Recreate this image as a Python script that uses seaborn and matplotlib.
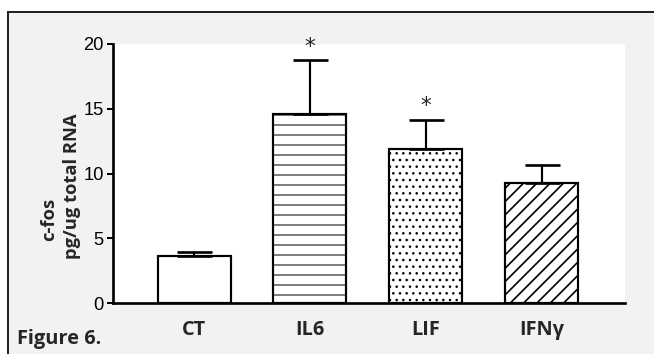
import matplotlib
matplotlib.use("Agg")
import matplotlib.pyplot as plt
import seaborn as sns
from matplotlib.patches import Rectangle

# values
groups = ["CT", "IL6", "LIF", "IFNγ"]
means = [3.63, 14.63, 11.88, 9.25]
sems = [0.31, 4.10, 2.27, 1.42]
significant = [False, True, True, False]
hatches = ["", "--", "...", "///"]
hatch_widths = [0.7, 0.6, 0.7, 1.0]

sns.set_style("white")
plt.rcParams["font.family"] = ["Open Sans", "DejaVu Sans"]
plt.rcParams["hatch.linewidth"] = 0.7

W, H, DPI = 654, 354, 120
fig = plt.figure(figsize=(W / DPI, H / DPI), dpi=DPI, facecolor="white")

# grey panel with frame (open to the right/bottom, as cropped)
fig.add_artist(Rectangle((8 / W, -0.1), 1.2, (H - 12) / H + 0.1,
                         transform=fig.transFigure, facecolor="#f2f2f2",
                         edgecolor="#222222", linewidth=1.2, zorder=0))

ax = fig.add_axes([113 / W, (H - 303) / H, 512 / W, 259 / H])
ax.set_facecolor("white")

sns.barplot(x=groups, y=means, color="white", edgecolor="black",
            linewidth=1.3, width=0.63, errorbar=None, saturation=1, ax=ax)

for bar, h, hw in zip(ax.patches, hatches, hatch_widths):
    bar.set_hatch(h)
    bar.set_facecolor("white")
    bar.set_edgecolor("black")
    if hasattr(bar, "set_hatch_linewidth"):
        bar.set_hatch_linewidth(hw)

centers = [p.get_x() + p.get_width() / 2 for p in ax.patches]
ax.errorbar(centers, means, yerr=[[0] * len(sems), sems], fmt="none",
            ecolor="black", elinewidth=1.3, capsize=10.5, capthick=1.6,
            zorder=1)

for x, m, s, sig in zip(centers, means, sems, significant):
    if sig:
        ax.annotate("*", (x, m + s), xytext=(0, 2), textcoords="offset points",
                    ha="center", va="bottom", fontsize=13,
                    family="DejaVu Sans", annotation_clip=False)

ax.set_ylim(0, 20)
ax.set_xlim(-0.70, 3.72)
ax.set_yticks([0, 5, 10, 15, 20])
ax.set_yticklabels(["0", "5", "10", "15", "20"], family="Liberation Sans",
                   fontsize=11)
ax.tick_params(axis="y", length=3.5, width=1.2, direction="out", pad=2,
               left=True, colors="black")
ax.tick_params(axis="x", length=0, pad=10, labelsize=12)
for lab in ax.get_xticklabels():
    lab.set_fontweight("bold")
ax.set_xlabel("")
ax.set_ylabel("")

for side in ["top", "right"]:
    ax.spines[side].set_visible(False)
for side in ["left", "bottom"]:
    ax.spines[side].set_linewidth(1.6)
    ax.spines[side].set_color("black")

ax.text(-0.081, 0.452, "pg/ug total RNA", transform=ax.transAxes,
        rotation=90, ha="center", va="center", fontsize=11, fontweight="bold")
ax.text(-0.125, 0.321, "c-fos", transform=ax.transAxes,
        rotation=90, ha="center", va="center", fontsize=11, fontweight="bold")

fig.text(17 / W, (H - 339) / H, "Figure 6.", ha="left", va="center",
         fontsize=12, fontweight="bold")

fig.savefig("out.png", dpi=DPI, facecolor=fig.get_facecolor())
